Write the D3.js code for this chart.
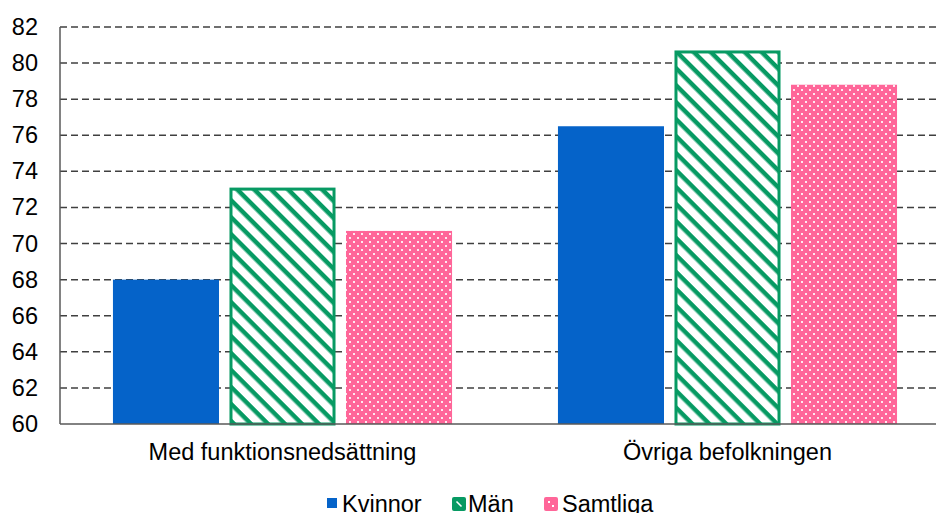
<!DOCTYPE html>
<html><head><meta charset="utf-8">
<script src="https://cdn.jsdelivr.net/npm/d3@7"></script>
<style>body{margin:0;background:#fff}svg{display:block;font-family:"Liberation Sans",Arial,sans-serif}</style>
</head><body><svg id="c" width="936" height="513"></svg>
<script>
const categories = ["Med funktionsnedsättning", "Övriga befolkningen"];
const seriesNames = ["Kvinnor", "Män", "Samtliga"];
const kvinnor = [68.0, 76.5];
const man = [73.1, 80.7];
const samtliga = [70.7, 78.8];
const yTicks = [60, 62, 64, 66, 68, 70, 72, 74, 76, 78, 80, 82];

(function(){
const svg = d3.select("#c");
const defs = svg.append("defs");
const stripe = defs.append("pattern").attr("id","stripe").attr("patternUnits","userSpaceOnUse")
  .attr("width",12).attr("height",12).attr("patternTransform","rotate(45)");
stripe.append("rect").attr("width",12).attr("height",12).attr("fill","#fff");
stripe.append("rect").attr("width",12).attr("height",4.5).attr("fill","#079a63");
const dots = defs.append("pattern").attr("id","dots").attr("patternUnits","userSpaceOnUse")
  .attr("width",8).attr("height",8);
dots.append("rect").attr("width",8).attr("height",8).attr("fill","#ff6699");
dots.append("rect").attr("x",1).attr("y",1).attr("width",2).attr("height",2).attr("fill","#fff").attr("opacity",0.85);
dots.append("rect").attr("x",5).attr("y",5).attr("width",2).attr("height",2).attr("fill","#fff").attr("opacity",0.85);

const mL = 60, mR = 950, mT = 27, mB = 424;
const FS = 23.5;
const y = d3.scaleLinear().domain([60, 82]).range([mB, mT]);
const x0 = d3.scaleBand().domain(categories).range([mL, mR]).paddingInner(0.238).paddingOuter(0.119);
const x1 = d3.scaleBand().domain(seriesNames).range([0, x0.bandwidth()]).paddingInner(0.09);

svg.append("g").selectAll("line").data(yTicks.slice(1)).join("line")
  .attr("x1", mL).attr("x2", 936).attr("y1", d => y(d)).attr("y2", d => y(d))
  .attr("stroke", "#404040").attr("stroke-width", 1.5).attr("stroke-dasharray", "7,4");

const data = categories.map((c, i) => ({c, vals: [kvinnor[i], man[i], samtliga[i]]}));
const fills = ["#0563c9", "url(#stripe)", "url(#dots)"];
const g = svg.append("g");
data.forEach(d => {
  d.vals.forEach((v, j) => {
    const bx = x0(d.c) + x1(seriesNames[j]);
    const inset = j === 1 ? 1.5 : 0;
    const r = g.append("rect")
      .attr("x", bx + inset).attr("y", y(v) + inset)
      .attr("width", x1.bandwidth() - 2 * inset)
      .attr("height", y(60) - y(v) - inset)
      .attr("fill", fills[j]);
    if (j === 1) r.attr("stroke", "#079a63").attr("stroke-width", 3);
  });
});

const yAxis = d3.axisLeft(y).tickValues(yTicks).tickSize(0).tickPadding(0).tickFormat(d3.format("d"));
const ya = svg.append("g").attr("transform", `translate(${mL},0)`).call(yAxis);
ya.select(".domain").remove();
ya.selectAll("text").attr("x", -22).attr("font-size", FS).attr("fill", "#000")
  .attr("font-family", "Liberation Sans, Arial, sans-serif");
svg.append("line").attr("x1", mL).attr("x2", mL).attr("y1", mT).attr("y2", mB)
  .attr("stroke", "#595959").attr("stroke-width", 1.5);
svg.append("line").attr("x1", mL).attr("x2", 936).attr("y1", mB).attr("y2", mB)
  .attr("stroke", "#595959").attr("stroke-width", 1.5);

const xAxis = d3.axisBottom(x0).tickSize(0).tickPadding(0);
const xa = svg.append("g").attr("transform", `translate(0,${mB})`).call(xAxis);
xa.select(".domain").remove();
xa.selectAll("text").attr("y", 36).attr("dy", 0).attr("font-size", FS).attr("fill", "#000")
  .attr("font-family", "Liberation Sans, Arial, sans-serif");

const legX = [327, 452, 544];
const textX = [342, 468, 562];
const legFill = ["#0563c9", "#079a63", "#ff6699"];
const lg = svg.append("g");
seriesNames.forEach((n, i) => {
  if (i === 0) {
    lg.append("rect").attr("x", legX[i]).attr("y", 498).attr("width", 10).attr("height", 10).attr("fill", legFill[i]);
  } else {
    lg.append("rect").attr("x", legX[i]).attr("y", 497).attr("width", 14).attr("height", 14).attr("rx", 2).attr("fill", legFill[i]);
    if (i === 1) {
      lg.append("line").attr("x1", legX[i]+4.5).attr("y1", 501.5).attr("x2", legX[i]+9.5).attr("y2", 506.5)
        .attr("stroke", "#fff").attr("stroke-width", 1.6);
    } else {
      lg.append("rect").attr("x", legX[i]+4).attr("y", 501).attr("width", 2).attr("height", 2).attr("fill", "#fff");
      lg.append("rect").attr("x", legX[i]+8).attr("y", 505).attr("width", 2).attr("height", 2).attr("fill", "#fff");
    }
  }
  lg.append("text").attr("x", textX[i]).attr("y", 512).attr("font-size", FS)
    .attr("fill", "#000").text(n);
});
})();
</script></body></html>
